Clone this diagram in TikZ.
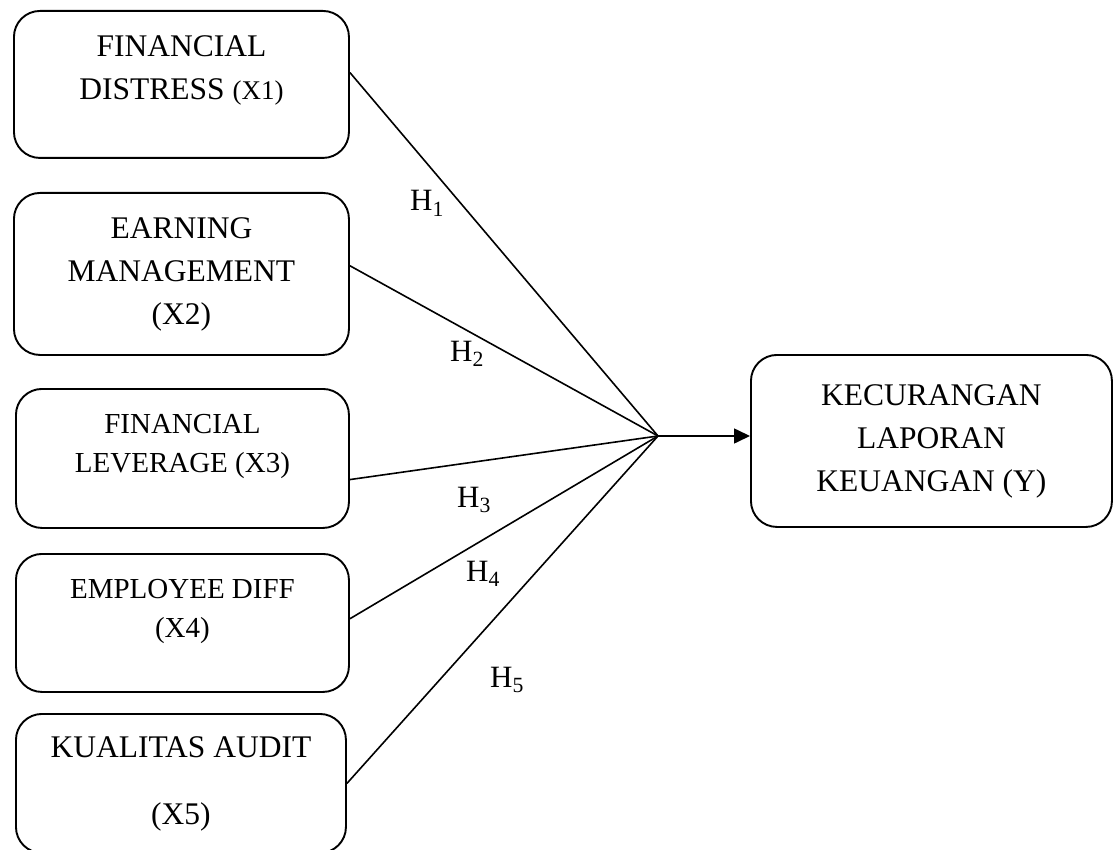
\documentclass[tikz,border=0pt]{standalone}
\usepackage{fontspec}
\setmainfont{Liberation Serif}
\usetikzlibrary{arrows.meta,calc}
\begin{document}
\begin{tikzpicture}[x=1pt,y=-1pt]
	\tikzset{var/.style={draw,line width=1.9pt,rounded corners=26pt,align=center,anchor=north west,inner sep=0pt,font=\fontsize{31.5}{43}\selectfont},
		link/.style={line width=1.6pt},
		hyp/.style={anchor=base west,inner sep=0pt,font=\fontsize{31}{37}\selectfont}}
	\useasboundingbox (0,0) rectangle (1113,850);
	\node[var,minimum width=335pt,minimum height=147pt] (x1) at (13,10) {FINANCIAL\\DISTRESS {\fontsize{27}{43}\selectfont(X1)}\\[-9pt]\mbox{}};
	\node[var,minimum width=335pt,minimum height=162pt] (x2) at (13,192) {EARNING\\MANAGEMENT\\(X2)};
	\node[var,minimum width=333pt,minimum height=139pt,font=\fontsize{29}{39}\selectfont] (x3) at (15,388) {FINANCIAL\\LEVERAGE (X3)\\[-9pt]\mbox{}};
	\node[var,minimum width=333pt,minimum height=138pt,font=\fontsize{29}{39}\selectfont] (x4) at (15,553) {EMPLOYEE DIFF\\(X4)\\[-9pt]\mbox{}};
	\node[var,minimum width=330pt,minimum height=139pt] (x5) at (15,713) {KUALITAS AUDIT\\[24pt](X5)};
	\node[var,minimum width=361pt,minimum height=172pt] (ky) at (750,354) {KECURANGAN\\LAPORAN\\KEUANGAN (Y)};
	\coordinate (j) at (658,436);
	\foreach \n/\f in {x1/.42, x2/.45, x3/.65, x4/.47, x5/.5}
		\draw[link] ($(\n.north east)!\f!(\n.south east)$) -- (j);
	\draw[link,-{Triangle[length=16pt,width=15pt]}] (j) -- (j -| ky.west);
	\foreach \i/\p in {1/{410,211}, 2/{450,361}, 3/{457,507}, 4/{466,581}, 5/{490,687}}
		\node[hyp] (h\i) at (\p) {H\textsubscript{\i}};
\end{tikzpicture}
\end{document}
